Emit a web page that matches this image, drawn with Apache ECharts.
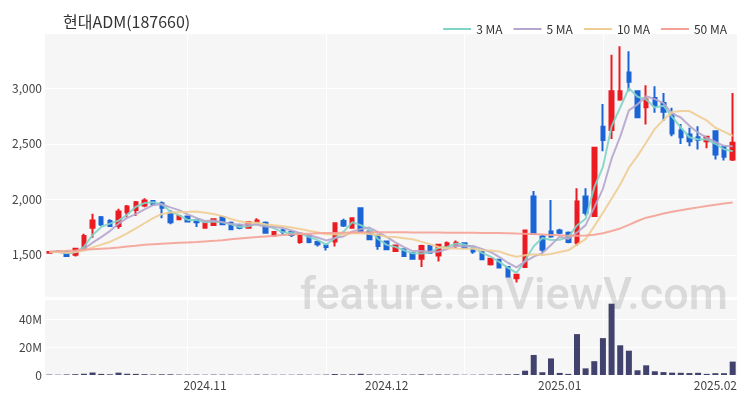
<!DOCTYPE html>
<html><head><meta charset="utf-8">
<script src="https://cdn.jsdelivr.net/npm/echarts@6/dist/echarts.min.js"></script>
<style>html,body{margin:0;padding:0;background:#fff}#c{width:750px;height:400px}</style>
</head><body><div id="c"></div>
<script>
const dates = [
'2024-10-07','2024-10-08','2024-10-10','2024-10-11','2024-10-14','2024-10-15','2024-10-16','2024-10-17','2024-10-18','2024-10-21',
'2024-10-22','2024-10-23','2024-10-24','2024-10-25','2024-10-28','2024-10-29','2024-10-30','2024-10-31','2024-11-01','2024-11-04',
'2024-11-05','2024-11-06','2024-11-07','2024-11-08','2024-11-11','2024-11-12','2024-11-13','2024-11-14','2024-11-15','2024-11-18',
'2024-11-19','2024-11-20','2024-11-21','2024-11-22','2024-11-25','2024-11-26','2024-11-27','2024-11-28','2024-11-29','2024-12-02',
'2024-12-03','2024-12-04','2024-12-05','2024-12-06','2024-12-09','2024-12-10','2024-12-11','2024-12-12','2024-12-13','2024-12-16',
'2024-12-17','2024-12-18','2024-12-19','2024-12-20','2024-12-23','2024-12-24','2024-12-26','2024-12-27','2024-12-30','2025-01-02',
'2025-01-03','2025-01-06','2025-01-07','2025-01-08','2025-01-09','2025-01-10','2025-01-13','2025-01-14','2025-01-15','2025-01-16',
'2025-01-17','2025-01-20','2025-01-21','2025-01-22','2025-01-23','2025-01-24','2025-01-31','2025-02-03','2025-02-04','2025-02-05'];
const opens = [
1520,1530,1525,1500,1560,1745,1840,1805,1760,1885,
1905,1945,1985,1965,1880,1820,1845,1815,1745,1770,
1840,1790,1765,1745,1790,1790,1675,1720,1705,1615,
1675,1615,1585,1620,1805,1745,1920,1710,1680,1620,
1535,1550,1515,1465,1580,1495,1580,1585,1605,1555,
1525,1415,1455,1390,1290,1390,2025,1665,1710,1720,
1700,1610,2025,1850,2655,2625,2900,3145,2975,2830,
2915,2870,2765,2620,2585,2560,2525,2615,2475,2360];
const closes = [
1525,1525,1490,1555,1670,1810,1775,1760,1890,1935,
1975,1990,1955,1925,1795,1850,1800,1795,1785,1820,
1775,1730,1745,1795,1810,1700,1705,1705,1680,1690,
1615,1595,1570,1785,1765,1830,1710,1640,1580,1550,
1585,1490,1465,1580,1520,1590,1605,1610,1565,1530,
1460,1465,1385,1305,1320,1720,1690,1545,1665,1700,
1615,1980,1880,2465,2535,2975,2975,3060,2740,2900,
2845,2790,2595,2560,2525,2535,2565,2405,2385,2510];
const lows = [
1515,1520,1485,1485,1555,1655,1760,1750,1735,1840,
1850,1930,1945,1830,1775,1815,1795,1750,1740,1765,
1770,1725,1730,1740,1785,1695,1665,1680,1660,1600,
1605,1575,1540,1575,1750,1740,1705,1635,1545,1545,
1525,1485,1460,1390,1515,1440,1575,1560,1560,1510,
1455,1405,1380,1300,1250,1385,1685,1520,1655,1685,
1605,1580,1855,1845,2435,2545,2890,2975,2735,2675,
2780,2710,2570,2500,2480,2450,2460,2360,2350,2345];
const highs = [
1530,1535,1530,1560,1690,1870,1850,1820,1915,1950,
1985,2010,1995,1980,1905,1860,1855,1825,1800,1830,
1850,1800,1780,1800,1830,1800,1710,1735,1715,1695,
1680,1625,1600,1790,1825,1840,1930,1715,1690,1625,
1590,1555,1520,1590,1585,1595,1620,1630,1610,1560,
1530,1470,1460,1395,1325,1725,2075,1680,1995,1735,
1710,2100,2100,2470,2860,3305,3380,3335,2985,3030,
3020,2960,2825,2680,2645,2660,2570,2620,2480,2960];
const volumesM = [
0.3,0.2,0.4,0.6,0.9,1.8,0.8,0.5,1.7,0.9,
0.8,0.6,0.4,0.5,0.5,0.3,0.3,0.3,0.2,0.3,
0.3,0.3,0.2,0.2,0.3,0.3,0.2,0.2,0.2,0.3,
0.2,0.2,0.3,0.7,0.4,0.5,0.9,0.4,0.3,0.3,
0.2,0.3,0.3,0.5,0.3,0.4,0.3,0.3,0.2,0.2,
0.3,0.3,0.4,0.5,0.6,3.1,14.5,2.0,12.0,1.5,
0.8,29.6,4.8,10.0,26.7,51.6,21.5,17.6,3.4,7.0,
2.7,2.1,1.7,1.6,1.4,1.6,0.8,1.3,1.3,9.7];
const ma50Values = [
1530,1533,1536,1540,1545,1550,1555,1560,1567,1575,
1582,1590,1596,1600,1604,1608,1612,1616,1621,1626,
1632,1640,1648,1655,1660,1666,1672,1679,1684,1688,
1691,1694,1696,1698,1700,1702,1703,1704,1704,1704,
1703,1703,1702,1702,1701,1701,1700,1700,1700,1699,
1698,1698,1697,1695,1692,1690,1688,1684,1680,1676,
1672,1672,1674,1682,1695,1715,1738,1770,1805,1835,
1852,1872,1888,1902,1915,1928,1941,1952,1962,1972];
const priorCloses = [1530,1525,1520,1525,1530,1525,1520,1525,1530];
const title = '현대ADM(187660)';
const watermark = 'feature.enViewV.com';

function movingAvg(n) {
  const all = priorCloses.concat(closes);
  const off = priorCloses.length;
  return closes.map((_, i) => {
    let s = 0;
    for (let k = 0; k < n; k++) s += all[off + i - k];
    return +(s / n).toFixed(1);
  });
}
const candles = closes.map((c, i) => [opens[i], c, lows[i], highs[i]]);
const isMonthStart = (idx) => idx > 0 && dates[idx].slice(0, 7) !== dates[idx - 1].slice(0, 7);
const fontFam = '"Noto Sans CJK KR", "Noto Sans", sans-serif';
const UP = '#ec1b22', DOWN = '#1a64d6';
const maColors = {'3 MA': '#80d4c7', '5 MA': '#b5a6cc', '10 MA': '#f0cd93', '50 MA': '#f5a296'};

function maSeries(name, data) {
  return {
    name, type: 'line', data, xAxisIndex: 0, yAxisIndex: 0,
    symbol: 'none', smooth: false,
    itemStyle: {color: maColors[name]},
    lineStyle: {color: maColors[name], width: 2, opacity: 0.9},
    emphasis: {disabled: true}, z: 3
  };
}

const xCommon = {
  type: 'category', data: dates, boundaryGap: true,
  axisLine: {show: false}, axisTick: {show: false},
  splitLine: {show: true, alignWithLabel: true, interval: (i) => i % 16 === 0 && i > 0, lineStyle: {color: '#ffffff', width: 1}}
};

const chart = echarts.init(document.getElementById('c'), null, {renderer: 'canvas'});
chart.setOption({
  animation: false,
  backgroundColor: '#ffffff',
  textStyle: {fontFamily: fontFam},
  title: {text: title, left: 63, top: 14, padding: 0,
    textStyle: {fontSize: 16, fontWeight: 'normal', color: '#333', fontFamily: fontFam}},
  legend: {
    right: 18, top: 18, icon: 'rect', itemWidth: 28, itemHeight: 2, itemGap: 11,
    textStyle: {fontSize: 12, color: '#333', fontFamily: fontFam},
    data: ['3 MA', '5 MA', '10 MA', '50 MA']
  },
  graphic: [{
    type: 'text', x: 514, y: 298, z: 1, silent: true,
    style: {text: watermark, fontSize: 45, fontWeight: 500, fontFamily: 'Roboto, "Noto Sans", sans-serif',
      fill: 'rgba(150,150,150,0.3)', align: 'center', verticalAlign: 'middle'}
  }],
  grid: [
    {left: 45, right: 13, top: 33, height: 264, show: true, backgroundColor: '#f6f6f6', borderWidth: 0},
    {left: 45, right: 13, top: 299, height: 76, show: true, backgroundColor: '#f6f6f6', borderWidth: 0}
  ],
  xAxis: [
    Object.assign({gridIndex: 0, axisLabel: {show: false}}, xCommon),
    Object.assign({gridIndex: 1, axisLabel: {
      show: true, interval: (idx) => isMonthStart(idx), margin: 4,
      fontSize: 12, color: '#444', fontFamily: fontFam,
      formatter: (v) => v.slice(0, 4) + '.' + v.slice(5, 7)
    }}, xCommon)
  ],
  yAxis: [
    {gridIndex: 0, type: 'value', min: 1120, max: 3500, splitNumber: 5,
      axisLine: {show: false}, axisTick: {show: false},
      axisLabel: {margin: 3, fontSize: 12, color: '#444', fontFamily: fontFam, showMinLabel: false, showMaxLabel: false},
      splitLine: {show: true, lineStyle: {color: '#ffffff', width: 1}}},
    {gridIndex: 1, type: 'value', min: 0, max: 55, interval: 20,
      axisLine: {show: false}, axisTick: {show: false},
      axisLabel: {margin: 3, fontSize: 12, color: '#444', fontFamily: fontFam, showMaxLabel: false,
        formatter: (v) => v === 0 ? '0' : v + 'M'},
      splitLine: {show: true, lineStyle: {color: '#ffffff', width: 1}}}
  ],
  series: [
    {name: 'price', type: 'candlestick', data: candles, xAxisIndex: 0, yAxisIndex: 0,
      barWidth: 4,
      itemStyle: {color: UP, color0: DOWN, borderColor: UP, borderColor0: DOWN, borderWidth: 2},
      emphasis: {disabled: true}, z: 2},
    maSeries('3 MA', movingAvg(3)),
    maSeries('5 MA', movingAvg(5)),
    maSeries('10 MA', movingAvg(10)),
    maSeries('50 MA', ma50Values),
    {name: 'volume', type: 'bar', data: volumesM, xAxisIndex: 1, yAxisIndex: 1,
      barWidth: 6, itemStyle: {color: '#42426e'}, emphasis: {disabled: true}, z: 2}
  ]
});
</script>
</body></html>
